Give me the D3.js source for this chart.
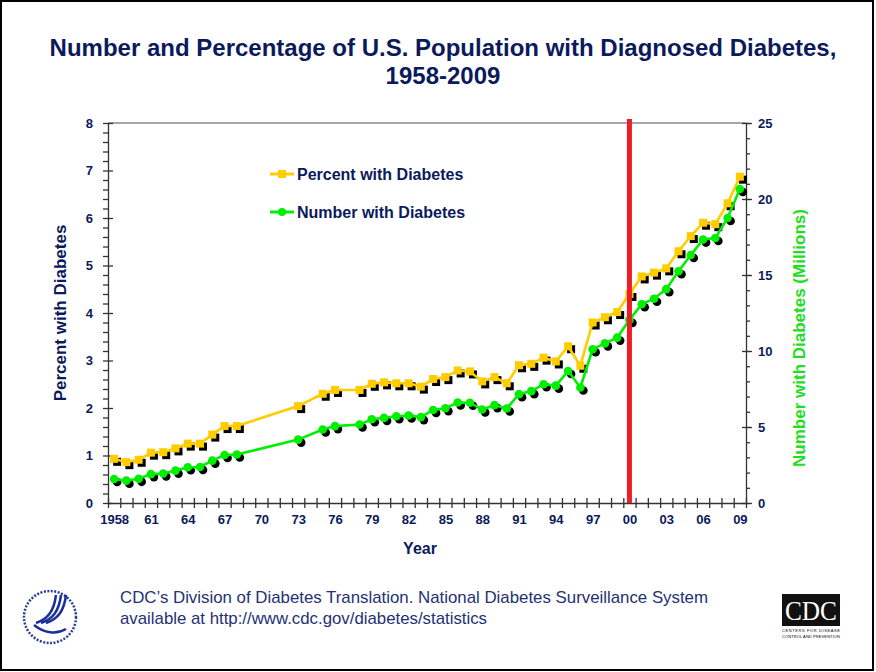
<!DOCTYPE html>
<html>
<head>
  <meta charset="utf-8">
  <title>Number and Percentage of U.S. Population with Diagnosed Diabetes</title>
  <script src="https://d3js.org/d3.v7.min.js"></script>
  <style>
    body { margin: 0; background: #fff; }
    svg text { font-family: "Liberation Sans", Arial, sans-serif; }
    .navy { fill: #0b1a5c; font-weight: bold; }
    .axis path, .axis line { stroke: #333; stroke-width: 1.3px; }
    .axis text { font-size: 13px; font-weight: bold; fill: #0b1a5c; }
    .foot { fill: #1f3175; font-family: "Liberation Sans Narrow", "Liberation Sans", sans-serif; font-size: 17px; }
  </style>
</head>
<body>
  <script>
    // years with survey data (gaps in 1969-72, 1974, 1977)
    var years = [1958, 1959, 1960, 1961, 1962, 1963, 1964, 1965, 1966, 1967, 1968,
                 1973, 1975, 1976, 1978, 1979, 1980, 1981, 1982, 1983, 1984, 1985,
                 1986, 1987, 1988, 1989, 1990, 1991, 1992, 1993, 1994, 1995, 1996,
                 1997, 1998, 1999, 2000, 2001, 2002, 2003, 2004, 2005, 2006, 2007,
                 2008, 2009];

    // percent of population with diagnosed diabetes
    var percent = [0.93, 0.86, 0.91, 1.06, 1.07, 1.15, 1.25, 1.25, 1.44, 1.62, 1.62,
                   2.04, 2.30, 2.38, 2.38, 2.51, 2.54, 2.52, 2.52, 2.45, 2.61, 2.65,
                   2.79, 2.77, 2.56, 2.65, 2.52, 2.90, 2.93, 3.06, 2.98, 3.30, 2.89,
                   3.80, 3.91, 4.02, 4.40, 4.77, 4.85, 4.94, 5.30, 5.62, 5.90, 5.87,
                   6.31, 6.87];

    // number with diagnosed diabetes, millions
    var number = [1.58, 1.47, 1.59, 1.90, 1.94, 2.13, 2.35, 2.37, 2.79, 3.16, 3.19,
                  4.17, 4.84, 5.06, 5.16, 5.51, 5.60, 5.71, 5.76, 5.65, 6.12, 6.23,
                  6.61, 6.60, 6.15, 6.44, 6.22, 7.16, 7.36, 7.81, 7.72, 8.68, 7.60,
                  10.12, 10.50, 10.88, 12.05, 13.08, 13.44, 14.07, 15.25, 16.32, 17.33, 17.43,
                  18.75, 20.66];

    var labelYears = [1958, 1961, 1964, 1967, 1970, 1973, 1976, 1979, 1982, 1985, 1988,
                      1991, 1994, 1997, 2000, 2003, 2006, 2009];
    var tickLabels = ["1958", "61", "64", "67", "70", "73", "76", "79", "82", "85", "88",
                      "91", "94", "97", "00", "03", "06", "09"];
    var leftTicks = [0, 1, 2, 3, 4, 5, 6, 7, 8];
    var rightTicks = [0, 5, 10, 15, 20, 25];
    var markerYear = 2000;

    var W = 876, H = 672;
    var plotL = 108, plotR = 746, plotT = 123, plotB = 503;

    var svg = d3.select("body").append("svg")
        .attr("width", W)
        .attr("height", H);

    svg.append("rect")
        .attr("x", 1).attr("y", 1)
        .attr("width", W - 4).attr("height", H - 3)
        .attr("fill", "#fff").attr("stroke", "#000").attr("stroke-width", 2);

    var x = d3.scaleLinear().domain([1957.5, 2009.5]).range([plotL, plotR]);
    var yL = d3.scaleLinear().domain([0, 8]).range([plotB, plotT]);
    var yR = d3.scaleLinear().domain([0, 25]).range([plotB, plotT]);

    var rows = years.map(function(yr, i) { return {year: yr, pct: percent[i], num: number[i]}; });

    // title
    var title = svg.append("text").attr("class", "navy")
        .attr("text-anchor", "middle").style("font-size", "24px");
    title.append("tspan").attr("x", 443).attr("y", 56)
        .text("Number and Percentage of U.S. Population with Diagnosed Diabetes,");
    title.append("tspan").attr("x", 443).attr("y", 84).text("1958-2009");

    // plot frame top
    svg.append("line")
        .attr("x1", plotL).attr("x2", plotR).attr("y1", plotT).attr("y2", plotT)
        .attr("stroke", "#888").attr("stroke-width", 1.3);

    // minor ticks
    var leftMinor = d3.range(0, 8.01, 0.2);
    svg.append("g").attr("class", "axis")
        .attr("transform", "translate(" + plotL + ",0)")
        .call(d3.axisLeft(yL).tickValues(leftMinor).tickSize(5).tickFormat(""))
        .select(".domain").remove();
    svg.append("g").attr("class", "axis")
        .attr("transform", "translate(" + plotR + ",0)")
        .call(d3.axisRight(yR).tickValues(d3.range(0, 26, 1)).tickSize(4).tickFormat(""))
        .select(".domain").remove();

    // left axis
    var gL = svg.append("g").attr("class", "axis")
        .attr("transform", "translate(" + plotL + ",0)")
        .call(d3.axisLeft(yL).tickValues(leftTicks).tickSize(5).tickSizeOuter(0).tickPadding(10));
    gL.selectAll(".tick line").attr("x2", 5);

    // right axis
    var gR = svg.append("g").attr("class", "axis")
        .attr("transform", "translate(" + plotR + ",0)")
        .call(d3.axisRight(yR).tickValues(rightTicks).tickSize(6).tickSizeOuter(0).tickPadding(6));
    gR.selectAll(".tick line").attr("x1", -4);

    // bottom axis: ticks between categories, labels on categories
    var gB = svg.append("g").attr("class", "axis")
        .attr("transform", "translate(0," + plotB + ")")
        .call(d3.axisBottom(x).tickValues(d3.range(1957.5, 2009.6, 1)).tickSize(5).tickSizeOuter(0).tickFormat(""));
    gB.selectAll(".tick line").attr("y1", -5);
    svg.append("g").attr("class", "axis")
        .attr("transform", "translate(0," + plotB + ")")
        .call(d3.axisBottom(x).tickValues(labelYears).tickSize(0).tickPadding(12)
              .tickFormat(function(d, i) { return tickLabels[i]; }))
        .select(".domain").remove();

    // axis titles
    svg.append("text").attr("class", "navy")
        .attr("transform", "translate(66," + ((plotT + plotB) / 2) + ") rotate(-90)")
        .attr("text-anchor", "middle").style("font-size", "17px")
        .text("Percent with Diabetes");
    svg.append("text")
        .attr("transform", "translate(805,338) rotate(-90)")
        .attr("text-anchor", "middle").style("font-size", "17px").style("font-weight", "bold")
        .attr("fill", "#22dd22")
        .text("Number with Diabetes (Millions)");
    svg.append("text").attr("class", "navy")
        .attr("x", 420).attr("y", 554).attr("text-anchor", "middle").style("font-size", "16px")
        .text("Year");

    var yellow = "#ffcc00", green = "#00ee00";
    var off = 3;

    // marker shadows
    svg.append("g").selectAll("rect").data(rows).join("rect")
        .attr("x", function(d) { return x(d.year) - 4 + off; })
        .attr("y", function(d) { return yL(d.pct) - 4 + off; })
        .attr("width", 8).attr("height", 8).attr("fill", "#000");
    svg.append("g").selectAll("circle").data(rows).join("circle")
        .attr("cx", function(d) { return x(d.year) + off; })
        .attr("cy", function(d) { return yR(d.num) + off; })
        .attr("r", 4.3).attr("fill", "#000");

    // lines
    svg.append("path").datum(rows)
        .attr("fill", "none").attr("stroke", yellow).attr("stroke-width", 2.6)
        .attr("d", d3.line().x(function(d) { return x(d.year); }).y(function(d) { return yL(d.pct); }));
    svg.append("path").datum(rows)
        .attr("fill", "none").attr("stroke", green).attr("stroke-width", 2.6)
        .attr("d", d3.line().x(function(d) { return x(d.year); }).y(function(d) { return yR(d.num); }));

    // markers
    svg.append("g").selectAll("rect").data(rows).join("rect")
        .attr("x", function(d) { return x(d.year) - 4; })
        .attr("y", function(d) { return yL(d.pct) - 4; })
        .attr("width", 8).attr("height", 8).attr("fill", yellow);
    svg.append("g").selectAll("circle").data(rows).join("circle")
        .attr("cx", function(d) { return x(d.year); })
        .attr("cy", function(d) { return yR(d.num); })
        .attr("r", 4.3).attr("fill", green);

    // red line at 2000
    svg.append("line")
        .attr("x1", x(markerYear)).attr("x2", x(markerYear))
        .attr("y1", plotT - 4).attr("y2", plotB)
        .attr("stroke", "#ee1c25").attr("stroke-width", 5);

    // legend
    var legend = [
      {label: "Percent with Diabetes", color: yellow, shape: "square", y: 174},
      {label: "Number with Diabetes", color: green, shape: "circle", y: 212}
    ];
    var lg = svg.append("g").selectAll("g").data(legend).join("g")
        .attr("transform", function(d) { return "translate(270," + d.y + ")"; });
    lg.append("line").attr("x1", 0).attr("x2", 24)
        .attr("stroke", function(d) { return d.color; }).attr("stroke-width", 3);
    lg.filter(function(d) { return d.shape === "square"; }).append("rect")
        .attr("x", 8).attr("y", -4).attr("width", 8).attr("height", 8)
        .attr("fill", function(d) { return d.color; });
    lg.filter(function(d) { return d.shape === "circle"; }).append("circle")
        .attr("cx", 12).attr("r", 4).attr("fill", function(d) { return d.color; });
    lg.append("text").attr("class", "navy")
        .attr("x", 27).attr("y", 6).style("font-size", "16px")
        .text(function(d) { return d.label; });

    // footer
    svg.append("text").attr("class", "foot").attr("x", 120).attr("y", 603)
        .attr("textLength", 588).attr("lengthAdjust", "spacingAndGlyphs")
        .text("CDC\u2019s Division of Diabetes Translation.  National Diabetes Surveillance System");
    svg.append("text").attr("class", "foot").attr("x", 120).attr("y", 624)
        .attr("textLength", 367).attr("lengthAdjust", "spacingAndGlyphs")
        .text("available at http://www.cdc.gov/diabetes/statistics");

    // HHS seal (simplified)
    var seal = svg.append("g").attr("transform", "translate(50,617)");
    seal.append("circle").attr("r", 26).attr("fill", "none")
        .attr("stroke", "#2a3f9a").attr("stroke-width", 2.5).attr("stroke-dasharray", "2 1.5");
    [0, 5, 10].forEach(function(o) {
      seal.append("path")
          .attr("d", "M" + (-14 + o) + ",6 C" + (-2 + o) + ",2 " + (4 + o) + ",-6 " + (6 + o) + ",-22")
          .attr("fill", "none").attr("stroke", "#1b2f9a").attr("stroke-width", 2.5);
    });
    seal.append("path").attr("d", "M-16,8 C-6,16 6,18 16,12")
        .attr("fill", "none").attr("stroke", "#1b2f9a").attr("stroke-width", 2.5);

    // CDC logo (simplified)
    var cdc = svg.append("g").attr("transform", "translate(782,594)");
    cdc.append("rect").attr("width", 58).attr("height", 32).attr("fill", "#111");
    cdc.append("text").attr("x", 29).attr("y", 26).attr("text-anchor", "middle")
        .attr("fill", "#fff").style("font-family", "Liberation Serif, serif")
        .style("font-size", "27px").attr("textLength", 52).attr("lengthAdjust", "spacingAndGlyphs")
        .text("CDC");
    cdc.append("text").attr("x", 0).attr("y", 38).style("font-size", "4px").attr("fill", "#000")
        .attr("textLength", 58).text("CENTERS FOR DISEASE");
    cdc.append("text").attr("x", 0).attr("y", 44).style("font-size", "4px").attr("fill", "#000")
        .attr("textLength", 58).text("CONTROL AND PREVENTION");
  </script>
</body>
</html>
